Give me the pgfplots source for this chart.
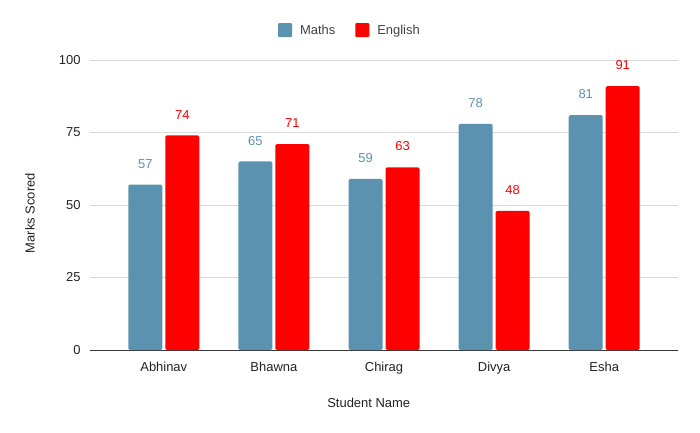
\documentclass[border=0pt]{standalone}
\usepackage{pgfplots}
\pgfplotsset{compat=1.18}
\usepackage{fontspec}
\setmainfont{Liberation Sans}
\definecolor{mathsblue}{HTML}{5B92B0}
\definecolor{engred}{HTML}{FF0000}
\definecolor{gridgray}{HTML}{D9D9D9}
\definecolor{txt}{HTML}{222222}

\begin{document}
\begin{tikzpicture}
	\path[use as bounding box] (-90bp,-83bp) rectangle (610bp,350bp);
	\begin{axis}[
		at={(0,0)}, anchor=south west,
		scale only axis,
		width=588bp, height=290bp,
		ybar, bar width=34bp,
		xmin=-0.67, xmax=4.67,
		ymin=0, ymax=100,
		ytick={0,25,50,75,100},
		xtick={0,1,2,3,4},
		xticklabels={Abhinav,Bhawna,Chirag,Divya,Esha},
		axis x line*=bottom,
		axis y line*=left,
		y axis line style={draw=none},
		x axis line style={draw=txt!90, line width=0.8pt, -},
		ymajorgrids,
		grid style={gridgray, line width=0.8pt},
		major tick length=0pt,
		tick label style={font=\fontsize{13}{15}\selectfont, text=txt},
		/pgf/number format/assume math mode=true,
		yticklabel style={anchor=east, xshift=-6bp},
		xticklabel style={yshift=-9bp},
		xlabel={Student Name},
		ylabel={Marks Scored},
		label style={font=\fontsize{13}{15}\selectfont, text=txt},
		xlabel style={at={(axis description cs:0.474,-0.183)}, anchor=center},
		ylabel style={at={(axis description cs:-0.102,0.472)}, anchor=center},
		legend style={at={(0.442,1.103)}, anchor=center, draw=none,
			legend columns=-1, font=\fontsize{13}{15}\selectfont, text=txt!85,
			/tikz/every odd column/.append style={column sep=6bp},
			/tikz/every even column/.append style={column sep=18bp}},
		legend image code/.code={\fill[#1, rounded corners=1bp] (0bp,-7bp) rectangle (14bp,7bp);},
		nodes near coords,
		every node near coord/.append style={font=\fontsize{13}{15}\selectfont, anchor=south, inner sep=0pt, yshift=16bp},
		clip=false,
	]
	\addplot[fill=mathsblue, draw=none, bar shift=-18.5bp, rounded corners=1.5bp,
		every node near coord/.append style={text=mathsblue}]
		coordinates {(0,57) (1,65) (2,59) (3,78) (4,81)};
	\addlegendentry{Maths}
	\addplot[fill=engred, draw=none, bar shift=18.5bp, rounded corners=1.5bp,
		every node near coord/.append style={text=engred}]
		coordinates {(0,74) (1,71) (2,63) (3,48) (4,91)};
	\addlegendentry{English}
	\end{axis}
\end{tikzpicture}
\end{document}
